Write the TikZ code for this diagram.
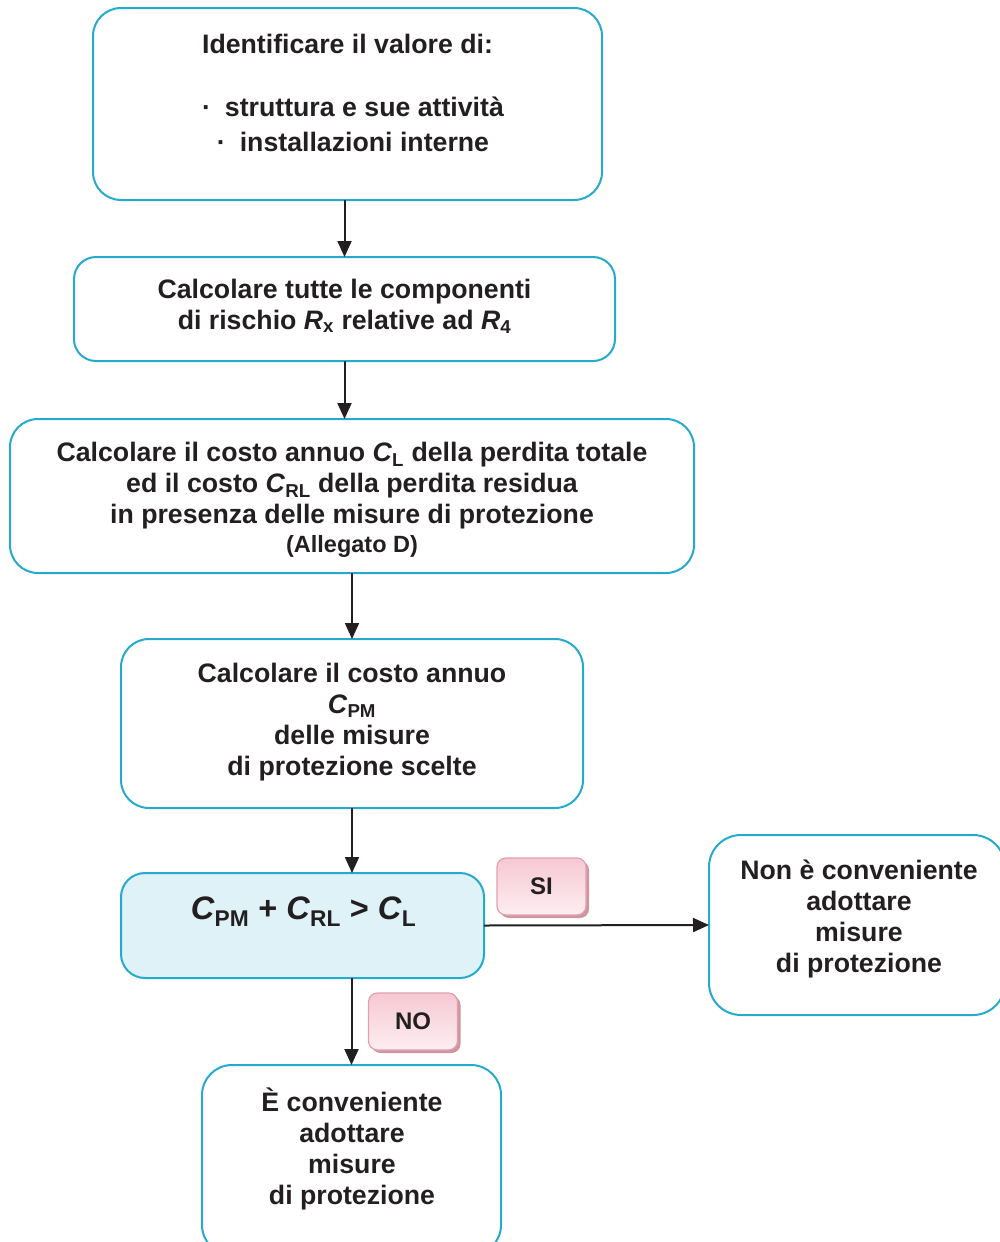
\documentclass[tikz,border=0pt]{standalone}
\usepackage{fontspec}
\setmainfont{Liberation Sans}
\usetikzlibrary{arrows.meta}
\definecolor{edgec}{RGB}{38,170,204}
\definecolor{decfill}{RGB}{223,242,247}
\definecolor{pinkedge}{RGB}{226,160,174}
\definecolor{pinktop}{RGB}{246,200,211}
\definecolor{pinkbot}{RGB}{253,238,242}
\definecolor{pinkshadow}{RGB}{205,150,160}
\definecolor{txt}{RGB}{35,31,32}
\newcommand{\Cs}[1]{\textit{C}\textsubscript{#1}}
\newcommand{\Rs}[1]{\textit{R}\textsubscript{#1}}
\begin{document}
\begin{tikzpicture}[x=1pt,y=-1pt,
  box/.style={draw=edgec,line width=2pt,rounded corners=28pt,inner sep=0pt,outer sep=0pt},
  txtn/.style={text=txt,font=\bfseries\fontsize{26.7}{31}\selectfont,align=center,inner sep=0pt},
  smalltxt/.style={text=txt,font=\bfseries\fontsize{23.5}{28}\selectfont,align=center,inner sep=0pt},
  labshadow/.style={fill=pinkshadow,rounded corners=9pt,minimum width=89pt,minimum height=57pt,inner sep=0pt},
  lab/.style={draw=pinkedge,line width=1.2pt,rounded corners=9pt,top color=pinktop,bottom color=pinkbot,
     minimum width=89pt,minimum height=57pt,inner sep=0pt,text=txt,font=\bfseries\fontsize{24}{28}\selectfont},
  arr/.style={line width=2pt,draw=txt,-{Triangle[length=16pt,width=14pt]}}
]
\useasboundingbox (0,0) rectangle (999,1242);
% boxes
\node[box,minimum width=509pt,minimum height=192pt] (b1) at (347.5,104) {};
\node[box,rounded corners=22pt,minimum width=541pt,minimum height=104pt] (b2) at (344.5,309) {};
\node[box,minimum width=684pt,minimum height=154pt] (b3) at (352,496) {};
\node[box,minimum width=462pt,minimum height=169pt] (b4) at (352,723.5) {};
\node[box,rounded corners=24pt,fill=decfill,minimum width=363pt,minimum height=105pt] (b5) at (302.5,925.5) {};
\node[box,rounded corners=32pt,minimum width=296pt,minimum height=180pt] (b6) at (857,925) {};
\node[box,rounded corners=30pt,minimum width=299pt,minimum height=190pt] (b7) at (351.5,1160) {};
% texts
\node[txtn] (t1a) at (347.5,44) {Identificare il valore di:};
\node[txtn] (t1b) at (353,107) {·\hspace{14pt}struttura e sue attività};
\node[txtn] (t1c) at (353,142) {·\hspace{14pt}installazioni interne};
\node[txtn] (t2) at (344.5,306) {Calcolare tutte le componenti\\di rischio \Rs{x} relative ad \Rs{4}};
\node[txtn] (t3) at (352,486) {Calcolare il costo annuo \Cs{L} della perdita totale\\ed il costo \Cs{RL} della perdita residua\\in presenza delle misure di protezione};
\node[smalltxt] (t3b) at (352,546) {(Allegato D)};
\node[txtn] (t4) at (352,722) {Calcolare il costo annuo\\\Cs{PM}\\delle misure\\di protezione scelte};
\node[txtn,font=\bfseries\fontsize{32.5}{36}\selectfont] (t5) at (303.5,912) {\Cs{PM} + \Cs{RL} > \Cs{L}};
\node[txtn] (t6) at (859,919) {Non è conveniente\\adottare\\misure\\di protezione};
\node[txtn] (t7) at (352,1148.5) {È conveniente\\adottare\\misure\\di protezione};
% connectors
\draw[arr] (b1.south -| b2.north) -- (b2.north);
\draw[arr] (b2.south) -- (b2.south |- b3.north);
\draw[arr] (b3.south) -- (b4.north);
\draw[arr] (b4.south) -- (b4.south |- b5.north);
\draw[arr] (b5.south -| b7.north) -- (b7.north);
\draw[arr] (b5.east) -- (b6.west);
% labels
\node[labshadow] (sish) at (544.5,889.5) {};
\node[lab] (si) at (541.5,886.5) {SI};
\node[labshadow] (nosh) at (416,1024.5) {};
\node[lab] (no) at (413,1021.5) {NO};
\end{tikzpicture}
\end{document}
